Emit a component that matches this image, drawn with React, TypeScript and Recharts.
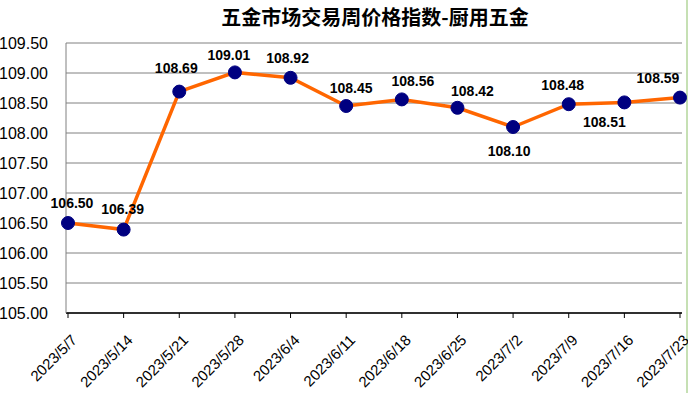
import React from 'react';
import { LineChart, Line, XAxis, YAxis, CartesianGrid, LabelList } from 'recharts';

const categories = ['2023/5/7', '2023/5/14', '2023/5/21', '2023/5/28', '2023/6/4', '2023/6/11', '2023/6/18', '2023/6/25', '2023/7/2', '2023/7/9', '2023/7/16', '2023/7/23'];
const values = [106.50, 106.39, 108.69, 109.01, 108.92, 108.45, 108.56, 108.42, 108.10, 108.48, 108.51, 108.59];
const yTicks = [105, 105.5, 106, 106.5, 107, 107.5, 108, 108.5, 109, 109.5];
const title = '五金市场交易周价格指数-厨用五金';

// label placement offsets (style only)
const labelOffsets: [number, number][] = [
  [4, -20], [-1, -21], [-3, -24], [-6, -17], [-3, -20], [5, -18],
  [11, -18], [15, -17], [-4, 24], [-6, -19], [-20, 20], [-22, -20],
];

const data = categories.map((c, i) => ({ name: c, value: values[i] }));

const FONT = '"Liberation Sans", Arial, sans-serif';

const XTick = (props: any) => {
  const { x, y, payload } = props;
  const ax = x + 10;
  const ay = y + 21;
  return (
    <text
      x={ax}
      y={ay}
      transform={`rotate(-45, ${ax}, ${ay})`}
      textAnchor="end"
      fontFamily={FONT}
      fontSize={15}
      fill="#000"
    >
      {payload.value}
    </text>
  );
};

const DataLabel = (props: any) => {
  const { x, y, index, value } = props;
  const [dx, dy] = labelOffsets[index] || [0, -18];
  return (
    <text
      x={x + dx}
      y={y + dy}
      textAnchor="middle"
      dominantBaseline="central"
      fontFamily={FONT}
      fontSize={14}
      fontWeight="bold"
      fill="#000"
    >
      {Number(value).toFixed(2)}
    </text>
  );
};

export default function App() {
  return (
    <div style={{ position: 'absolute', left: 0, top: 0, width: 688, height: 393, background: '#fff' }}>
      <div
        style={{
          position: 'absolute',
          left: 0,
          top: 5,
          width: 750,
          textAlign: 'center',
          fontFamily: '"Noto Sans CJK SC", sans-serif',
          fontWeight: 'bold',
          fontSize: 20,
          color: '#000',
          lineHeight: '24px',
        }}
      >
        {title}
      </div>
      <div style={{ position: 'absolute', right: 0, top: 0, width: 2, height: 393, background: '#c6e0b4' }} />
      <LineChart width={688} height={393} data={data} margin={{ top: 43, right: 6, left: 0, bottom: 0 }}>
        <CartesianGrid vertical={false} stroke="#808080" strokeWidth={1} />
        <XAxis
          dataKey="name"
          interval={0}
          height={80}
          tick={<XTick />}
          axisLine={{ stroke: '#000', strokeWidth: 1.5 }}
          tickLine={{ stroke: '#000' }}
          tickSize={5}
          padding={{ left: 2, right: 2 }}
        />
        <YAxis
          domain={[105, 109.5]}
          ticks={yTicks}
          width={66}
          tickFormatter={(v: number) => v.toFixed(2)}
          axisLine={{ stroke: '#808080' }}
          tickLine={false}
          tick={{ fontFamily: FONT, fontSize: 16, fill: '#000' }}
          tickMargin={12}
          interval={0}
        />
        <Line
          type="linear"
          dataKey="value"
          stroke="#FF6600"
          strokeWidth={3.5}
          dot={{ r: 6.5, fill: '#000080', stroke: '#000080', strokeWidth: 1 }}
          isAnimationActive={false}
        >
          <LabelList dataKey="value" content={<DataLabel />} />
        </Line>
      </LineChart>
    </div>
  );
}
